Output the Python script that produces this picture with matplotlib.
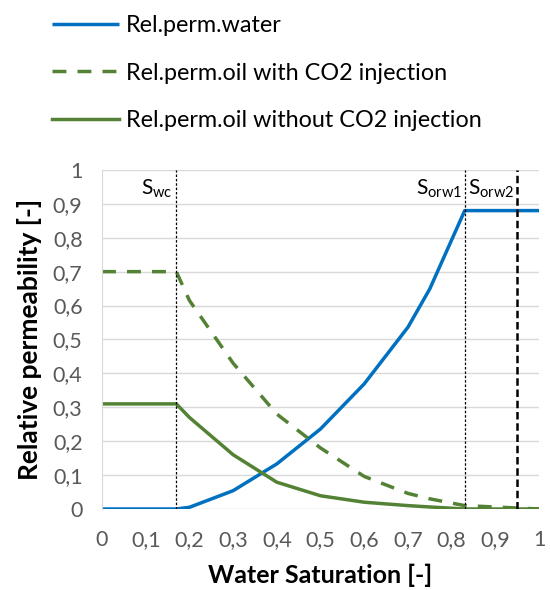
import matplotlib
matplotlib.use("Agg")
import matplotlib.pyplot as plt
from matplotlib.ticker import FuncFormatter, MultipleLocator

plt.rcParams['font.family'] = ['Lato', 'DejaVu Sans']
plt.rcParams['mathtext.fontset'] = 'custom'
plt.rcParams['mathtext.rm'] = 'Lato'
plt.rcParams['mathtext.it'] = 'Lato'

sw = [0.0, 0.17, 0.2, 0.3, 0.4, 0.5, 0.6, 0.7, 0.75, 0.83, 1.0]
krw = [0.0, 0.0, 0.005, 0.054, 0.133, 0.236, 0.369, 0.536, 0.649, 0.88, 0.88]
kro_co2 = [0.70, 0.70, 0.615, 0.43, 0.28, 0.18, 0.096, 0.046, 0.03, 0.01, 0.0]
kro_noco2 = [0.31, 0.31, 0.27, 0.16, 0.079, 0.039, 0.02, 0.01, 0.006, 0.0, 0.0]
swc = 0.17
sorw1 = 0.83
sorw2 = 0.95

blue = '#0070C0'
green = '#548235'

fig = plt.figure(figsize=(5.5, 5.9), dpi=100)
ax = fig.add_axes([0.1855, 0.1373, 0.7945, 0.5747])

l1, = ax.plot(sw, krw, color=blue, lw=2.5, label='Rel.perm.water', solid_capstyle='butt')
l2, = ax.plot(sw, kro_co2, color=green, lw=2.5, ls=(0, (4, 3.2)), label='Rel.perm.oil with CO2 injection')
l3, = ax.plot(sw, kro_noco2, color=green, lw=2.5, label='Rel.perm.oil without CO2 injection')

ax.axvline(swc, color='black', lw=0.9, ls=(0, (2, 1.5)))
ax.axvline(sorw1, color='black', lw=0.9, ls=(0, (2, 1.5)))
ax.axvline(sorw2, color='black', lw=1.8, ls=(0, (3, 1.5)))

ax.text(swc - 0.008, 0.945, r'S$_{\mathrm{wc}}$', ha='right', va='center', fontsize=15)
ax.text(sorw1 - 0.006, 0.945, r'S$_{\mathrm{orw1}}$', ha='right', va='center', fontsize=15)
ax.text(sorw2 - 0.006, 0.945, r'S$_{\mathrm{orw2}}$', ha='right', va='center', fontsize=15)

ax.set_xlim(0, 1)
ax.set_ylim(0, 1)
ax.xaxis.set_major_locator(MultipleLocator(0.1))
ax.yaxis.set_major_locator(MultipleLocator(0.1))
fmt = FuncFormatter(lambda v, p: ('%g' % round(v, 1)).replace('.', ','))
ax.xaxis.set_major_formatter(fmt)
ax.yaxis.set_major_formatter(fmt)
ax.tick_params(length=0, labelsize=15.5, colors='#595959')
ax.tick_params(axis='x', pad=15)
ax.tick_params(axis='y', pad=14)
ax.grid(axis='y', color='#D9D9D9', lw=1.0)
ax.set_axisbelow(True)
for s in ['top', 'right', 'bottom']:
    ax.spines[s].set_visible(False)
ax.spines['left'].set_color('#D9D9D9')

ax.set_xlabel('Water Saturation [-]', fontsize=18, fontweight='bold', labelpad=10)
ax.set_ylabel('Relative permeability [-]', fontsize=19, fontweight='bold', labelpad=8)

fig.legend(handles=[l1, l2, l3], loc='upper left', bbox_to_anchor=(52 / 550, 1 - 15 / 590),
           frameon=False, fontsize=16.8, handlelength=2.85, handletextpad=0.3,
           labelspacing=1.14, borderaxespad=0, borderpad=0)

fig.savefig('out.png', dpi=100)
